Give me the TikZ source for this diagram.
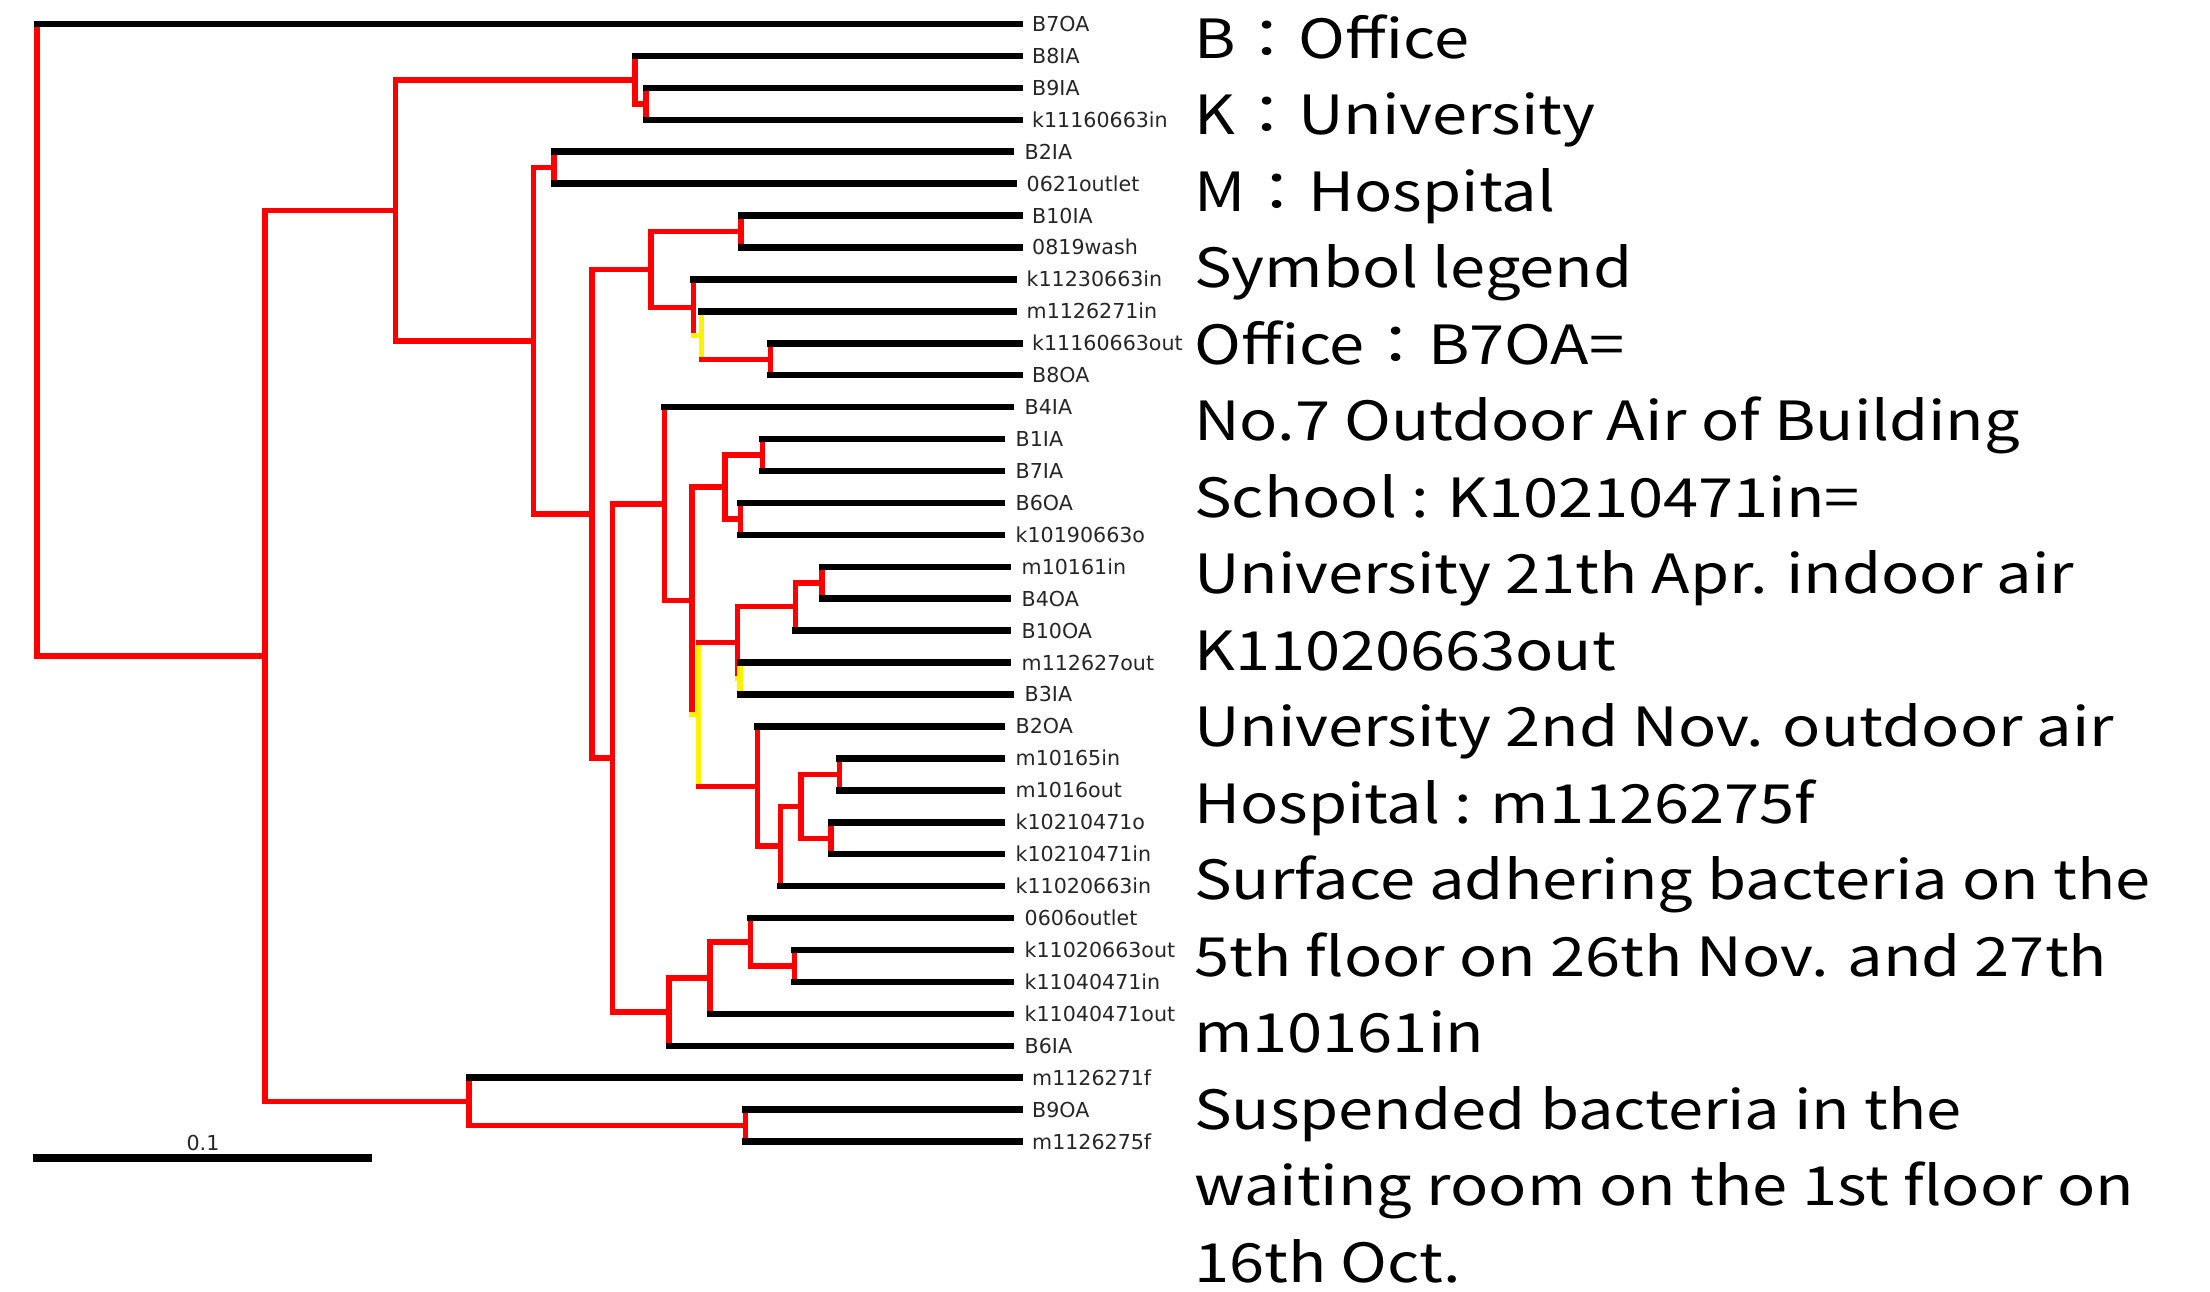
\documentclass[tikz,border=0pt]{standalone}
\usepackage{fontspec}
\usepackage{graphicx}
\newfontfamily\lblfam{DejaVu Sans}
\newfontfamily\legfam{Noto Sans CJK JP}
\newcommand\lblfont{\lblfam\fontsize{20.6}{22}\selectfont}
\newcommand\legfont{\legfam\fontsize{54}{60}\selectfont}
\begin{document}
\begin{tikzpicture}[x=1pt,y=-1pt,
  vr/.style={draw=red, line width=5.5pt, line cap=rect},
  yl/.style={draw=yellow, line width=5.5pt, line cap=rect},
  lf/.style={draw=black, line width=6.5pt, line cap=rect},
  tip/.style={font=\lblfont, text=black!85, anchor=base west, inner sep=0pt},
  leg/.style={font=\legfont, text=black, anchor=base west, inner sep=0pt}]
\fill[white] (0,0) rectangle (2210,1291);
\useasboundingbox (0,0) rectangle (2210,1291);
% internal nodes
\coordinate (r) at (37,340);
\coordinate (n1) at (265,656.1);
\coordinate (n2) at (395.7,210.4);
\coordinate (nB8) at (635,79.9);
\coordinate (nB9) at (646,103.9);
\coordinate (n3) at (533.4,340.8);
\coordinate (nB2) at (554,167.7);
\coordinate (n4) at (592.2,513.8);
\coordinate (n6) at (651,269.5);
\coordinate (nB10) at (741,231.6);
\coordinate (n692) at (693.7,307.4);
\coordinate (Y1) at (701.6,335.3);
\coordinate (n771) at (770.5,359.3);
\coordinate (n5) at (612.7,758.0);
\coordinate (n7) at (664.5,504.0);
\coordinate (n8) at (692,600.7);
\coordinate (n723) at (724.8,487.0);
\coordinate (nB1) at (762.7,455.1);
\coordinate (nB6) at (740.4,519.0);
\coordinate (Y2) at (698.7,714.5);
\coordinate (n9) at (737.3,642.6);
\coordinate (n10) at (795.3,606.7);
\coordinate (n11) at (822,582.8);
\coordinate (Y3) at (740,678.6);
\coordinate (n12) at (757.4,786.3);
\coordinate (n13) at (780.6,846.2);
\coordinate (n14) at (801,806.3);
\coordinate (n15) at (839.7,774.4);
\coordinate (n16) at (831,838.3);
\coordinate (n17) at (669,1011.9);
\coordinate (n18) at (710,977.9);
\coordinate (n19) at (750.7,942.0);
\coordinate (n20) at (794.4,966.0);
\coordinate (nM2) at (468.9,1101.7);
\coordinate (nM) at (745.5,1125.6);
% leaves: index/tip x/label x/y/text
\foreach \i/\tx/\lx/\yy/\txt in {
 0/1019.3/1032/24.0/B7OA,
 1/1019.3/1032/55.9/B8IA,
 2/1019.3/1032/87.9/B9IA,
 3/1019.3/1032/119.8/k11160663in,
 4/1011/1024.5/151.7/B2IA,
 5/1013.5/1026.5/183.7/0621outlet,
 6/1019.3/1032/215.6/B10IA,
 7/1019.3/1032/247.5/0819wash,
 8/1013.5/1026.5/279.4/k11230663in,
 9/1013.5/1026.5/311.4/m1126271in,
 10/1019.3/1032/343.3/k11160663out,
 11/1019.3/1032/375.2/B8OA,
 12/1011/1024.5/407.2/B4IA,
 13/1001.5/1015.5/439.1/B1IA,
 14/1001.5/1015.5/471.0/B7IA,
 15/1001.5/1015.5/503.0/B6OA,
 16/1001.5/1015.5/534.9/k10190663o,
 17/1008/1021.5/566.8/m10161in,
 18/1008/1021.5/598.7/B4OA,
 19/1008/1021.5/630.7/B10OA,
 20/1008/1021.5/662.6/m112627out,
 21/1011/1024.5/694.5/B3IA,
 22/1001.5/1015.5/726.5/B2OA,
 23/1001.5/1015.5/758.4/m10165in,
 24/1001.5/1015.5/790.3/m1016out,
 25/1001.5/1015.5/822.3/k10210471o,
 26/1001.5/1015.5/854.2/k10210471in,
 27/1001.5/1015.5/886.1/k11020663in,
 28/1011/1024.5/918.0/0606outlet,
 29/1011/1024.5/950.0/k11020663out,
 30/1011/1024.5/981.9/k11040471in,
 31/1011/1024.5/1013.8/k11040471out,
 32/1011/1024.5/1045.8/B6IA,
 33/1019.3/1032/1077.7/m1126271f,
 34/1019.3/1032/1109.6/B9OA,
 35/1019.3/1032/1141.6/m1126275f}{
  \coordinate (L\i) at (\tx,\yy);
  \node[tip] (t\i) at (\lx,\yy+7.4) {\txt};
}
% vertical lines (red)
\foreach \p/\a/\b in {r/L0/n1, n1/n2/nM2, n2/nB8/n3, nB8/L1/nB9, nB9/L2/L3,
  n3/nB2/n4, nB2/L4/L5, n4/n6/n5, n6/nB10/n692, nB10/L6/L7, n692/L8/Y1,
  n771/L10/L11, n5/n7/n17, n7/L12/n8, n8/n723/Y2, n723/nB1/nB6, nB1/L13/L14,
  nB6/L15/L16, n9/n10/Y3, n10/n11/L19, n11/L17/L18, n12/L22/n13, n13/n14/L27,
  n14/n15/n16, n15/L23/L24, n16/L25/L26, n17/n18/L32, n18/n19/L31, n19/L28/n20,
  n20/L29/L30, nM2/L33/nM, nM/L34/L35}
  \draw[vr] (\p |- \a) -- (\p |- \b);
% vertical lines (yellow)
\foreach \p/\a/\b in {Y1/L9/n771, Y2/n9/n12, Y3/L20/L21}
  \draw[yl] (\p |- \a) -- (\p |- \b);
% horizontal branches to internal nodes (red)
\foreach \p/\c in {r/n1, n1/n2, n1/nM2, n2/nB8, n2/n3, nB8/nB9, n3/nB2, n3/n4,
  n4/n6, n4/n5, n6/nB10, n6/n692, Y1/n771, n5/n7, n5/n17, n7/n8, n8/n723,
  n723/nB1, n723/nB6, Y2/n9, Y2/n12, n9/n10, n10/n11, n12/n13, n13/n14,
  n14/n15, n14/n16, n17/n18, n18/n19, n19/n20, nM2/nM}
  \draw[vr] (\p |- \c) -- (\c);
% horizontal branches to yellow nodes
\foreach \p/\c in {n692/Y1, n8/Y2, n9/Y3}
  \draw[yl] (\p |- \c) -- (\c);
% leaf branches (black)
\foreach \p/\c in {r/L0, nB8/L1, nB9/L2, nB9/L3, nB2/L4, nB2/L5, nB10/L6, nB10/L7,
  n692/L8, Y1/L9, n771/L10, n771/L11, n7/L12, nB1/L13, nB1/L14, nB6/L15, nB6/L16,
  n11/L17, n11/L18, n10/L19, Y3/L20, Y3/L21, n12/L22, n15/L23, n15/L24, n16/L25,
  n16/L26, n13/L27, n19/L28, n20/L29, n20/L30, n18/L31, n17/L32, nM2/L33,
  nM/L34, nM/L35}
  \draw[lf] (\p |- \c) -- (\c);
% scale bar
\coordinate (sbL) at (36.5,1158.3);
\coordinate (sbR) at (367.5,1158.3);
\draw[draw=black, line width=8pt, line cap=rect] (sbL) -- (sbR);
\node[font=\lblfont, text=black!85, inner sep=0pt, anchor=base] (sbt) at (203,1150.5) {0.1};
% legend
\foreach \k/\txt in {0/B：Office, 1/K：University, 2/M：Hospital, 3/Symbol legend,
  4/Office：B7OA=, 5/No.7 Outdoor Air of Building, 6/School : K10210471in=,
  7/University 21th Apr. indoor air, 8/K11020663out,
  9/University 2nd Nov. outdoor air, 10/Hospital : m1126275f,
  11/Surface adhering bacteria on the, 12/5th floor on 26th Nov. and 27th,
  13/m10161in, 14/Suspended bacteria in the,
  15/waiting room on the 1st floor on, 16/16th Oct.}
  \node[leg] (g\k) at (1194,58+76.5*\k) {\scalebox{1.17}[1]{\txt}};
\end{tikzpicture}
\end{document}
